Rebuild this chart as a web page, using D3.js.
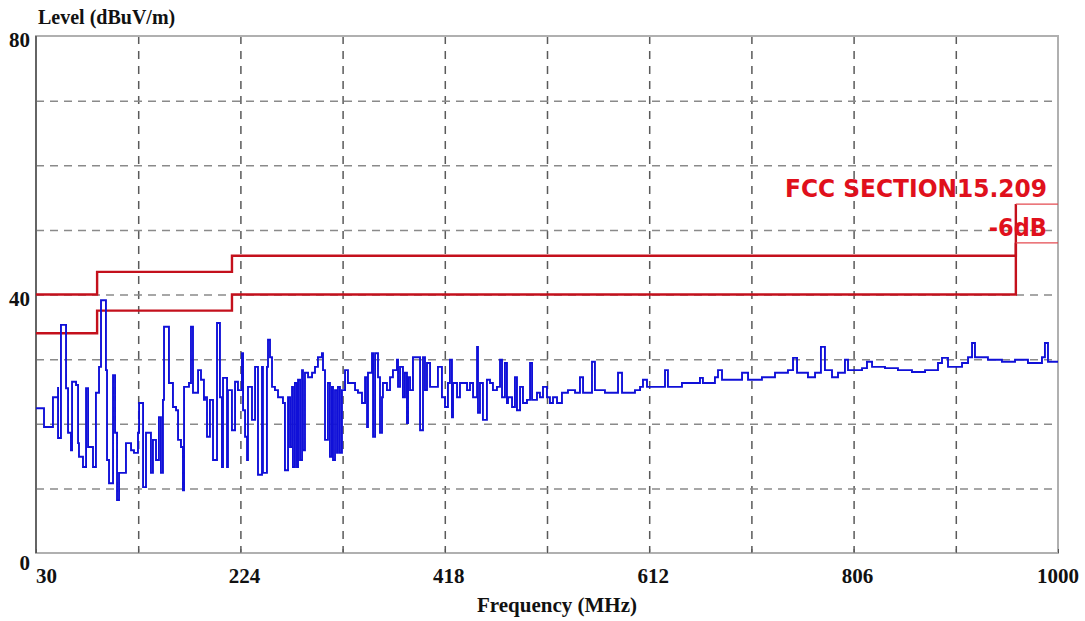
<!DOCTYPE html>
<html>
<head>
<meta charset="utf-8">
<script src="https://cdn.jsdelivr.net/npm/d3@7"></script>
<style>
  body { margin: 0; background: #fff; }
  svg { display: block; }
  .lbl { font-family: "Liberation Serif", "Times New Roman", serif; font-weight: bold; fill: #111; }
  .red { font-family: "Liberation Sans Narrow", "DejaVu Sans Condensed", "Liberation Sans", sans-serif; font-weight: bold; fill: #e0101c; }
</style>
</head>
<body>
<svg id="chart"></svg>
<script>
// spectrum trace (MHz / dBuV/m)
var traceFreq = [30, 37.6, 46.1, 50.9, 50.9, 53.7, 58.5, 58.5, 60.4, 63.2, 64.2, 68.0, 69.9, 70.8, 74.6, 77.5, 79.4, 84.1, 86.9, 89.8,
  91.7, 94.5, 96.4, 97.4, 99.3, 103.1, 105.0, 106.9, 108.8, 115.4, 120.2, 123.0, 126.8, 127.8, 131.6, 134.4, 139.1, 141.0, 143.9, 146.7,
  148.6, 150.5, 151.5, 155.3, 156.2, 160.0, 162.9, 164.8, 167.6, 169.5, 170.5, 175.2, 177.1, 179.0, 183.8, 186.6, 189.4, 190.4, 192.3, 195.1,
  198.0, 201.8, 204.6, 206.5, 207.5, 211.3, 212.2, 216.0, 218.9, 221.7, 225.5, 226.5, 228.4, 230.3, 231.2, 235.0, 237.9, 240.7, 244.5, 245.4,
  249.2, 250.2, 252.1, 254.0, 256.8, 259.7, 264.4, 266.3, 269.2, 271.1, 273.0, 273.9, 275.8, 277.7, 278.7, 280.6, 282.5, 283.4, 285.3, 288.2,
  292.0, 294.8, 297.6, 301.4, 302.4, 304.3, 307.1, 309.0, 310.9, 311.9, 313.8, 315.7, 316.6, 318.5, 320.4, 323.3, 326.1, 332.8, 335.6, 339.4,
  342.3, 344.2, 345.1, 348.9, 349.9, 351.8, 354.6, 356.5, 358.4, 359.3, 363.1, 366.0, 368.8, 372.6, 373.6, 375.5, 378.3, 380.2, 382.1, 383.1,
  385.0, 387.8, 391.6, 394.5, 397.3, 399.2, 401.1, 404.0, 411.5, 415.3, 418.2, 421.0, 422.9, 424.8, 425.8, 429.6, 432.4, 439.1, 441.9, 444.8,
  448.6, 449.5, 451.4, 454.2, 458.0, 460.9, 463.7, 467.5, 470.4, 472.3, 475.1, 477.0, 478.0, 481.8, 484.6, 486.5, 489.4, 492.2, 496.0, 498.9,
  500.8, 505.5, 508.3, 511.2, 515.0, 517.8, 520.7, 524.5, 529.2, 534.9, 541.6, 546.3, 549.2, 557.7, 560.5, 570.0, 582.4, 586.2, 598.5, 603.3,
  606.1, 609.9, 627.0, 629.8, 643.1, 660.2, 663.0, 674.4, 677.3, 681.1, 693.4, 700.1, 705.8, 719.0, 731.4, 743.7, 748.5, 752.3, 762.7, 769.4,
  775.0, 778.8, 785.5, 791.2, 797.8, 800.7, 814.0, 818.7, 823.5, 835.8, 848.1, 861.4, 873.8, 886.1, 889.9, 895.6, 908.9, 914.6, 918.4, 921.2,
  933.5, 946.8, 959.2, 971.5, 984.8, 987.6, 990.5, 1000];
var traceLevel = [22.4, 19.5, 24.1, 25.7, 17.8, 35.3, 35.3, 25.5, 18.6, 15.9, 26.5, 26.0, 17.0, 14.9, 13.3, 25.5, 16.4, 13.3, 24.8, 28.8,
  39.1, 39.1, 28.3, 14.4, 10.8, 27.5, 18.6, 8.2, 12.4, 17.0, 15.9, 15.5, 18.6, 23.2, 10.2, 18.6, 12.4, 17.5, 14.4, 21.0,
  12.4, 23.7, 35.0, 35.0, 26.3, 22.6, 22.1, 17.5, 16.4, 9.7, 25.7, 26.3, 35.0, 24.8, 28.3, 26.8, 23.7, 24.1, 18.0, 23.7,
  14.4, 35.6, 24.1, 13.3, 27.1, 13.3, 25.2, 19.0, 26.5, 25.2, 30.9, 22.1, 18.0, 14.4, 25.7, 20.6, 28.8, 12.1, 28.8, 12.4,
  28.8, 33.0, 30.3, 25.7, 25.2, 24.1, 23.2, 12.8, 24.1, 16.4, 25.7, 13.3, 26.3, 13.3, 26.8, 14.4, 28.3, 15.9, 27.9, 27.2,
  27.9, 28.8, 30.3, 30.9, 28.3, 17.5, 26.3, 14.9, 25.7, 14.4, 25.2, 15.5, 25.7, 15.5, 25.2, 28.3, 26.3, 25.2, 24.8, 23.2,
  27.2, 19.5, 27.9, 30.9, 18.0, 30.9, 27.2, 18.6, 24.1, 26.3, 25.2, 27.2, 28.3, 29.9, 25.7, 28.8, 24.1, 27.9, 20.1, 27.2,
  25.2, 30.3, 30.3, 19.0, 30.3, 25.2, 29.4, 25.7, 28.8, 24.1, 22.6, 26.3, 29.9, 21.0, 26.3, 24.1, 26.3, 25.2, 26.3, 24.1,
  31.9, 21.7, 26.3, 20.6, 26.8, 26.3, 25.2, 25.7, 29.9, 24.1, 29.4, 23.2, 24.1, 22.6, 27.2, 22.1, 25.7, 23.2, 23.7, 29.4,
  23.7, 24.8, 24.1, 25.7, 24.1, 23.2, 24.1, 23.2, 24.8, 25.2, 24.8, 27.2, 24.8, 29.6, 25.2, 24.8, 27.9, 24.8, 25.2, 25.7,
  26.8, 25.7, 28.3, 25.7, 26.3, 27.1, 26.3, 27.2, 28.3, 26.8, 26.8, 27.9, 26.8, 27.2, 27.9, 28.3, 30.2, 27.9, 27.2, 27.9,
  31.9, 28.3, 27.2, 27.9, 29.9, 28.3, 28.6, 29.6, 28.8, 28.6, 28.3, 28.0, 28.3, 29.4, 30.2, 28.8, 29.4, 30.3, 32.5, 30.3,
  29.9, 29.6, 29.9, 29.4, 30.3, 32.5, 29.6, 29.6];

// FCC 15.209 limit and limit -6 dB
var limitFreq = [30, 88, 216, 960, 1000];
var limitLevel = [40, 43.5, 46, 54, 54];
var marginLevel = [34, 37.5, 40, 48, 48];

// axis labels
var freqLabels = [30, 224, 418, 612, 806, 1000];
var freqGrid = [127, 224, 321, 418, 515, 612, 709, 806, 903];
var freqMinor = [30, 127, 224, 321, 418, 515, 612, 709, 806, 903, 1000];
var levelGrid = [10, 20, 30, 40, 50, 60, 70];
var levelLabels = [80, 40, 0];

var width = 1085, height = 621;
var margin = { top: 36, right: 27, bottom: 68, left: 36 };

var svg = d3.select("#chart").attr("width", width).attr("height", height);

var x = d3.scaleLinear().domain([30, 1000]).range([margin.left, width - margin.right]);
var y = d3.scaleLinear().domain([0, 80]).range([height - margin.bottom, margin.top]);

var plotW = width - margin.left - margin.right;
var plotH = height - margin.top - margin.bottom;

// grid
svg.append("g")
  .attr("transform", `translate(0,${margin.top})`)
  .call(d3.axisBottom(x).tickValues(freqGrid).tickSize(plotH).tickFormat(""))
  .call(g => g.select(".domain").remove())
  .selectAll("line")
  .attr("stroke", "#5a5a5a").attr("stroke-width", 1.5).attr("stroke-dasharray", "8,7");

svg.append("g")
  .attr("transform", `translate(${margin.left},0)`)
  .call(d3.axisRight(y).tickValues(levelGrid).tickSize(plotW).tickFormat(""))
  .call(g => g.select(".domain").remove())
  .selectAll("line")
  .attr("stroke", "#8a8a8a").attr("stroke-width", 1.5).attr("stroke-dasharray", "8,6");

// frame
svg.append("rect")
  .attr("x", margin.left).attr("y", margin.top)
  .attr("width", plotW).attr("height", plotH)
  .attr("fill", "none").attr("stroke", "#b0b0b0").attr("stroke-width", 2);
svg.append("line")
  .attr("x1", margin.left).attr("x2", margin.left)
  .attr("y1", margin.top).attr("y2", height - margin.bottom)
  .attr("stroke", "#333").attr("stroke-width", 1.2);

// small ticks on bottom axis
svg.append("g")
  .attr("transform", `translate(0,${height - margin.bottom})`)
  .call(d3.axisBottom(x).tickValues(freqMinor).tickSize(-4).tickFormat(""))
  .call(g => g.select(".domain").remove())
  .selectAll("line").attr("stroke", "#555");

// limit lines
var stepLine = d3.line().curve(d3.curveStepAfter)
  .x(d => x(d[0])).y(d => y(d[1]));

function drawLimit(levels) {
  var pts = limitFreq.map((f, i) => [f, levels[i]]);
  svg.append("path")
    .attr("d", stepLine(pts.slice(0, 4)))
    .attr("fill", "none").attr("stroke", "#c4101c").attr("stroke-width", 2.4);
  svg.append("path")
    .attr("d", stepLine(pts.slice(3)))
    .attr("fill", "none").attr("stroke", "#e44a50").attr("stroke-width", 1.3);
}
drawLimit(limitLevel);
drawLimit(marginLevel);

// trace
var trace = traceFreq.map((f, i) => [f, traceLevel[i]]);
svg.append("path")
  .attr("d", stepLine(trace))
  .attr("fill", "none").attr("stroke", "#1010d8").attr("stroke-width", 1.9)
  .attr("stroke-linejoin", "miter");

// limit labels
svg.append("text").attr("class", "red")
  .attr("x", 1047).attr("y", 197).attr("text-anchor", "end")
  .style("font-size", "25px")
  .attr("textLength", 262).attr("lengthAdjust", "spacingAndGlyphs")
  .text("FCC SECTION15.209");
svg.append("text").attr("class", "red")
  .attr("x", 1047).attr("y", 236).attr("text-anchor", "end")
  .style("font-size", "25px")
  .text("-6dB");

// axis text
svg.append("text").attr("class", "lbl")
  .attr("x", 38).attr("y", 24).style("font-size", "20px")
  .text("Level (dBuV/m)");

svg.selectAll(".ylab").data(levelLabels).enter().append("text")
  .attr("class", "lbl ylab")
  .attr("x", 30).attr("text-anchor", "end")
  .attr("y", d => y(d) + (d === 0 ? 17 : 11))
  .style("font-size", "21px")
  .text(d => d);

svg.selectAll(".xlab").data(freqLabels).enter().append("text")
  .attr("class", "lbl xlab")
  .attr("x", d => x(d) + (d === 30 || d === 1000 ? 0 : 4))
  .attr("y", 583)
  .attr("text-anchor", d => d === 30 ? "start" : "middle")
  .style("font-size", "21px")
  .text(d => d);

svg.append("text").attr("class", "lbl")
  .attr("x", 557).attr("y", 612).attr("text-anchor", "middle")
  .style("font-size", "21px")
  .text("Frequency (MHz)");
</script>
</body>
</html>
